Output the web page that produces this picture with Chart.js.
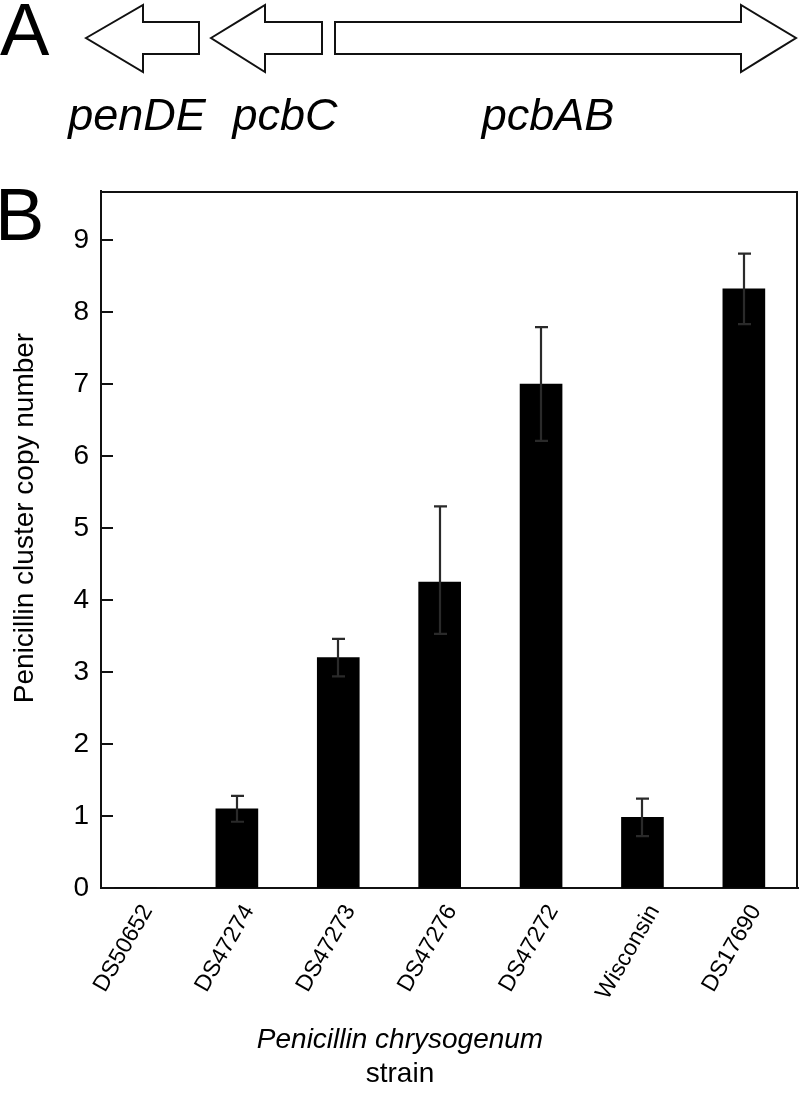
<!DOCTYPE html>
<html>
<head>
<meta charset="utf-8">
<script src="https://cdn.jsdelivr.net/npm/chart.js@4.4.1/dist/chart.umd.min.js"></script>
<style>
  html, body { margin: 0; padding: 0; background: #fff; }
  #wrap { position: relative; width: 800px; height: 1094px; overflow: hidden; }
  #copyChart, #labels { position: absolute; left: 0; top: 0; }
  #labels text { font-family: 'Liberation Sans', Arial, Helvetica, sans-serif; fill: #000; }
</style>
</head>
<body>
<div id="wrap">
  <canvas id="copyChart" width="800" height="1094"></canvas>
  <svg id="labels" width="800" height="1094">
    <!-- panel A: gene cluster -->
    <g fill="#fff" stroke="#111" stroke-width="2">
      <polygon points="86,38 143,5 143,22 199,22 199,54 143,54 143,72"/>
      <polygon points="211,38 265,5 265,22 322,22 322,54 265,54 265,72"/>
      <polygon points="335,22 741,22 741,5 796,38 741,72 741,54 335,54"/>
    </g>
    <text x="0" y="55" font-size="74">A</text>
    <g font-size="45" font-style="italic" text-anchor="middle">
      <text x="137" y="130">penDE</text>
      <text x="285" y="130">pcbC</text>
      <text x="548" y="130">pcbAB</text>
    </g>
    <!-- panel B titles -->
    <text x="-5" y="240" font-size="74">B</text>
    <text transform="translate(33,518) rotate(-90)" font-size="28" text-anchor="middle">Penicillin cluster copy number</text>
    <text x="400" y="1048" font-size="28" font-style="italic" text-anchor="middle">Penicillin chrysogenum</text>
    <text x="400" y="1082" font-size="28" text-anchor="middle">strain</text>
  </svg>
</div>
<script>
const strains = ['DS50652', 'DS47274', 'DS47273', 'DS47276', 'DS47272', 'Wisconsin', 'DS17690'];
const copyNumber = [0, 1.1, 3.2, 4.25, 7.0, 0.98, 8.32];
const errUp = [0, 0.18, 0.26, 1.05, 0.79, 0.26, 0.49];
const errDown = [0, 0.18, 0.26, 0.72, 0.79, 0.26, 0.49];
const yTicks = [0, 1, 2, 3, 4, 5, 6, 7, 8, 9];

Chart.defaults.font.family = "'Liberation Sans', Arial, Helvetica, sans-serif";
Chart.defaults.color = '#000';

// box round the plot + short inward ticks on the y axis
const framePlugin = {
  id: 'frame',
  afterDraw(chart) {
    const { ctx, chartArea: a, scales } = chart;
    ctx.save();
    ctx.strokeStyle = '#111';
    ctx.lineWidth = 2;
    ctx.beginPath();
    ctx.moveTo(a.left, a.top + 1);
    ctx.lineTo(a.right - 1, a.top + 1);
    ctx.lineTo(a.right - 1, a.bottom);
    ctx.stroke();
    yTicks.forEach(v => {
      if (v === 0) return;
      const y = Math.round(scales.y.getPixelForValue(v));
      ctx.beginPath();
      ctx.moveTo(a.left, y);
      ctx.lineTo(a.left + 12, y);
      ctx.stroke();
    });
    ctx.restore();
  }
};

const errorBarPlugin = {
  id: 'errorBars',
  afterDatasetsDraw(chart) {
    const { ctx, scales } = chart;
    ctx.save();
    ctx.strokeStyle = '#2a2a2a';
    ctx.lineWidth = 2.2;
    copyNumber.forEach((v, i) => {
      if (!errUp[i] && !errDown[i]) return;
      const x = Math.round(scales.x.getPixelForValue(i));
      const yHi = scales.y.getPixelForValue(v + errUp[i]);
      const yLo = scales.y.getPixelForValue(v - errDown[i]);
      ctx.beginPath();
      ctx.moveTo(x, yHi); ctx.lineTo(x, yLo);
      ctx.moveTo(x - 6, yHi); ctx.lineTo(x + 7, yHi);
      ctx.moveTo(x - 6, yLo); ctx.lineTo(x + 7, yLo);
      ctx.stroke();
    });
    ctx.restore();
  }
};

new Chart(document.getElementById('copyChart'), {
  type: 'bar',
  data: {
    datasets: [{
      data: copyNumber.map((v, i) => ({ x: i, y: v })),
      backgroundColor: '#000',
      borderWidth: 0,
      barThickness: 42
    }]
  },
  options: {
    responsive: false,
    animation: false,
    layout: { padding: { top: 191, right: 2, left: 0, bottom: 0 } },
    plugins: { legend: { display: false }, tooltip: { enabled: false } },
    scales: {
      x: {
        type: 'linear',
        min: -0.34,
        max: 6.534,
        offset: false,
        grid: { drawOnChartArea: false, drawTicks: false, offset: false },
        border: { color: '#111', width: 2 },
        afterBuildTicks: s => { s.ticks = strains.map((_, i) => ({ value: i })); },
        afterFit: s => { s.height = 1094 - 888; },
        ticks: {
          autoSkip: false,
          minRotation: 60,
          maxRotation: 60,
          padding: 12,
          labelOffset: 12,
          font: { size: 23 },
          callback: v => strains[v]
        }
      },
      y: {
        min: 0,
        max: 9.68,
        grid: { drawOnChartArea: false, drawTicks: false },
        border: { color: '#111', width: 2 },
        afterBuildTicks: s => { s.ticks = yTicks.map(v => ({ value: v })); },
        afterFit: s => { s.width = 101; },
        ticks: { padding: 12, font: { size: 28 } }
      }
    }
  },
  plugins: [errorBarPlugin, framePlugin]
});
</script>
</body>
</html>
